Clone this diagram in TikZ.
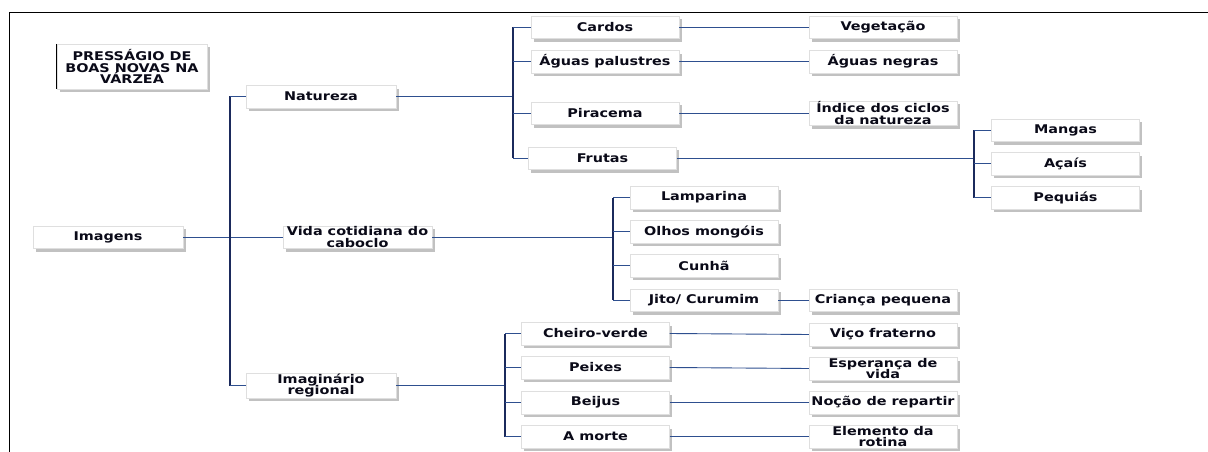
\documentclass[tikz,border=0pt]{standalone}
\usepackage{fontspec}
\newfontfamily\dvb{DejaVu Sans}[FakeStretch=1.2]
\usetikzlibrary{shadows}
\definecolor{barc}{HTML}{1B2A5C}
\definecolor{linec}{HTML}{2E4F8F}
\definecolor{txtc}{HTML}{0A0A18}
\tikzset{
  box/.style={draw=gray!25, line width=0.4pt, fill=white, minimum width=148pt, minimum height=22.5pt,
    inner sep=0.5pt, align=center, text=txtc,
    font=\dvb\bfseries\fontsize{12}{11.8}\selectfont,
    drop shadow={shadow xshift=2.5pt, shadow yshift=-3.5pt, fill=gray!80, opacity=0.6}},
  vbar/.style={draw=barc, line width=1.8pt},
  hline/.style={draw=linec, line width=0.9pt},
}
\begin{document}
\begin{tikzpicture}[x=1pt,y=-1pt]
\fill[white] (0,0) rectangle (1208,452);
\useasboundingbox (0,0) rectangle (1208,452);
\draw[black, line width=0.9pt] (9,452) -- (9,12) -- (1208,12);

% bus coordinates
\coordinate (b1) at (230,0);
\coordinate (b2) at (513,0);
\coordinate (b3) at (613,0);
\coordinate (b4) at (505,0);
\coordinate (b5) at (974,0);

% nodes
\node[box, minimum width=150pt, minimum height=45pt] (title) at (132,66.5) {PRESSÁGIO DE\\BOAS NOVAS NA\\VÁRZEA};
\draw[black, line width=0.8pt] (title.north west) -- (title.south west);
\node[box, minimum width=150pt] (img) at (108,237) {Imagens};
\node[box, minimum width=150pt] (nat) at (321,96.5) {Natureza};
\node[box, minimum width=149pt] (vida) at (357.5,237) {Vida cotidiana do\\caboclo};
\node[box, minimum width=150pt] (imr) at (321,385.5) {Imaginário\\regional};

\node[box] (cardos) at (605,27) {Cardos};
\node[box] (aguasp) at (605,61.5) {Águas palustres};
\node[box] (pira) at (605,113) {Piracema};
\node[box] (frutas) at (602.5,158) {Frutas};

\node[box] (veg) at (883,27) {Vegetação};
\node[box] (aguasn) at (883,61.5) {Águas negras};
\node[box] (indice) at (883,113) {Índice dos ciclos\\da natureza};

\node[box] (mangas) at (1065.5,130) {Mangas};
\node[box] (acais) at (1065.5,163.5) {Açaís};
\node[box] (pequias) at (1065.5,197.5) {Pequiás};

\node[box] (lamp) at (704,197.5) {Lamparina};
\node[box] (olhos) at (704,231.5) {Olhos mongóis};
\node[box] (cunha) at (704,265.5) {Cunhã};
\node[box] (jito) at (704,300) {Jito/ Curumim};
\node[box] (crianca) at (883,300) {Criança pequena};

\node[box] (cheiro) at (595.5,333.5) {Cheiro-verde};
\node[box] (peixes) at (595.5,367.5) {Peixes};
\node[box] (beijus) at (595.5,402.5) {Beijus};
\node[box] (morte) at (595.5,436.5) {A morte};

\node[box] (vico) at (883,334.5) {Viço fraterno};
\node[box] (esper) at (883,368.5) {Esperança de\\vida};
\node[box] (nocao) at (883,402.5) {Noção de repartir};
\node[box] (elem) at (883,436.5) {Elemento da\\rotina};

% level 1
\draw[hline] (img.east) -- (vida.west);
\draw[vbar] (nat.west -| b1) -- (imr.west -| b1);
\draw[hline] (nat.west -| b1) -- (nat.west);
\draw[hline] (imr.west -| b1) -- (imr.west);

% Natureza
\draw[hline] (nat.east) -- (nat.east -| b2);
\draw[vbar] (cardos.west -| b2) -- (frutas.west -| b2);
\foreach \n in {cardos,aguasp,pira,frutas} \draw[hline] (\n.west -| b2) -- (\n.west);
\draw[hline] (cardos.east) -- (veg.west);
\draw[hline] (aguasp.east) -- (aguasn.west);
\draw[hline] (pira.east) -- (indice.west);

% Frutas
\draw[hline] (frutas.east) -- (frutas.east -| b5);
\draw[vbar] (mangas.west -| b5) -- (pequias.west -| b5);
\foreach \n in {mangas,acais,pequias} \draw[hline] (\n.west -| b5) -- (\n.west);

% Vida
\draw[hline] (vida.east) -- (vida.east -| b3);
\draw[vbar] (lamp.west -| b3) -- (jito.west -| b3);
\foreach \n in {lamp,olhos,cunha,jito} \draw[hline] (\n.west -| b3) -- (\n.west);
\draw[hline] (jito.east) -- (crianca.west);

% Imaginario
\draw[hline] (imr.east) -- (imr.east -| b4);
\draw[vbar] (cheiro.west -| b4) -- (morte.west -| b4);
\foreach \n in {cheiro,peixes,beijus,morte} \draw[hline] (\n.west -| b4) -- (\n.west);
\draw[hline] (cheiro.east) -- (vico.west);
\draw[hline] (peixes.east) -- (esper.west);
\draw[hline] (beijus.east) -- (nocao.west);
\draw[hline] (morte.east) -- (elem.west);
\end{tikzpicture}
\end{document}
